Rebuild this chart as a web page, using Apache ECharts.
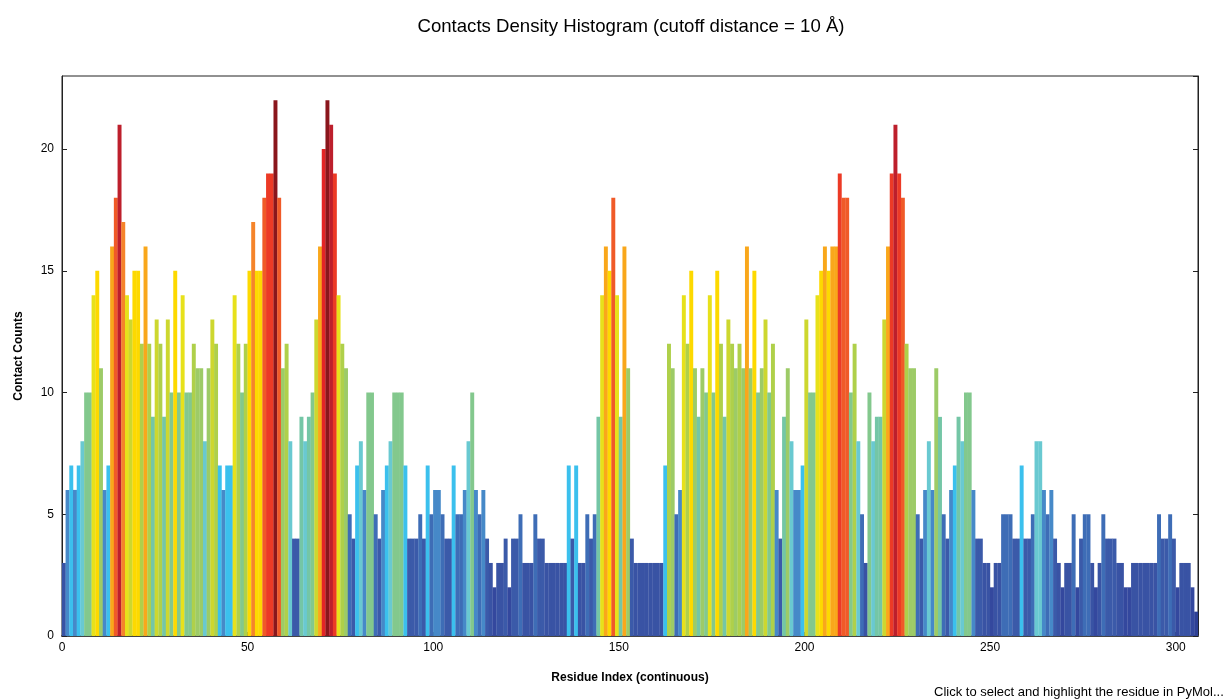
<!DOCTYPE html>
<html>
<head>
<meta charset="utf-8">
<title>Contacts Density Histogram</title>
<script src="https://cdn.jsdelivr.net/npm/echarts@6/dist/echarts.min.js"></script>
<style>
html, body { margin: 0; padding: 0; background: #fff; }
#main { width: 1225px; height: 700px; }
</style>
</head>
<body>
<div id="main"></div>
<script>
// contacts per residue (index 0..305)
var counts = [
	3,6,7,6,7,8,10,10,14,15,
	11,6,7,16,18,21,17,14,13,15,
	15,12,16,12,9,13,12,9,13,10,
	15,10,14,10,10,12,11,11,8,11,
	13,12,7,6,7,7,14,12,10,12,
	15,17,15,15,18,19,19,22,18,11,
	12,8,4,4,9,8,9,10,13,16,
	20,22,21,19,14,12,11,5,4,7,
	8,6,10,10,5,4,6,7,8,10,
	10,10,7,4,4,4,5,4,7,5,
	6,6,5,4,4,7,5,5,6,8,
	10,6,5,6,4,3,2,3,3,4,
	2,4,4,5,3,3,3,5,4,4,
	3,3,3,3,3,3,7,4,7,3,
	3,5,4,5,9,14,16,15,18,14,
	9,16,11,4,3,3,3,3,3,3,
	3,3,7,12,11,5,6,14,12,15,
	11,9,11,10,14,10,15,12,9,13,
	12,11,12,11,16,11,15,10,11,13,
	10,12,6,4,9,11,8,6,6,7,
	13,10,10,14,15,16,15,16,16,19,
	18,18,10,12,8,5,3,10,8,9,
	9,13,16,19,21,19,18,12,11,11,
	5,4,6,8,6,11,9,5,4,6,
	7,9,8,10,10,6,4,4,3,3,
	2,3,3,5,5,5,4,4,7,4,
	4,5,8,8,6,5,6,4,3,2,
	3,3,5,2,4,5,5,3,2,3,
	5,4,4,4,3,3,2,2,3,3,
	3,3,3,3,3,5,4,4,5,4,
	2,3,3,3,2,1
];
var xTicks = [0, 50, 100, 150, 200, 250, 300];
var yTicks = [0, 5, 10, 15, 20];

// colour by count (1..22)
var palette = ['#2e4095','#2e4095','#34489e','#3953a4','#3b5aa9','#3e6db6','#4689c8','#3bc0ed',
	'#69c9d1','#74c6a6','#83c88d','#9dcb67','#afd04a','#cdd72f','#e7e11b','#fdd900',
	'#f9a71b','#f5842a','#f05a28','#ec3a26','#e32526','#bd1f2c','#8a161c'];

var barData = counts.map(function (v, i) { return [i + 0.5, v]; });

var chart = echarts.init(document.getElementById('main'));
var font = 'Liberation Sans, Arial, sans-serif';
option = {
	animation: false,
	backgroundColor: '#fff',
	title: {
		text: 'Contacts Density Histogram (cutoff distance = 10 \u00c5)',
		left: 626,
		textAlign: 'center',
		top: 12,
		textStyle: { color: '#000', fontSize: 18.6, fontWeight: 'normal', fontFamily: font }
	},
	grid: {
		left: 62, right: 27, top: 76, bottom: 64,
		show: true, borderColor: '#222', borderWidth: 1
	},
	xAxis: [{
		type: 'value',
		min: 0, max: 306, interval: 50,
		name: 'Residue Index (continuous)',
		nameLocation: 'middle',
		nameGap: 36,
		nameTextStyle: { color: '#000', fontSize: 12, fontWeight: 'bold', fontFamily: font },
		axisLine: { lineStyle: { color: '#444', width: 2 } },
		axisTick: { inside: true, length: 4, lineStyle: { color: '#222' } },
		axisLabel: {
			color: '#000', fontSize: 12, fontFamily: font, margin: 6,
			showMaxLabel: false,
			formatter: function (v) { return xTicks.indexOf(v) >= 0 ? v : ''; }
		},
		splitLine: { show: false }
	}],
	yAxis: [{
		type: 'value',
		min: 0, max: 23, interval: 5,
		name: 'Contact Counts',
		nameLocation: 'middle',
		nameGap: 37,
		nameTextStyle: { color: '#000', fontSize: 12, fontWeight: 'bold', fontFamily: font },
		axisLine: { show: true, lineStyle: { color: '#222', width: 1 } },
		axisTick: { show: true, inside: true, length: 5, lineStyle: { color: '#222' } },
		axisLabel: {
			color: '#000', fontSize: 12, fontFamily: font, margin: 8,
			showMaxLabel: false,
			formatter: function (v) { return yTicks.indexOf(v) >= 0 ? v : ''; }
		},
		splitLine: { show: false }
	}, {
		type: 'value',
		position: 'right',
		min: 0, max: 23, interval: 5,
		axisLine: { show: true, lineStyle: { color: '#222', width: 1 } },
		axisTick: { show: true, inside: true, length: 5, lineStyle: { color: '#222' } },
		axisLabel: { show: false },
		splitLine: { show: false }
	}],
	graphic: [{
		type: 'text',
		left: 934,
		top: 686,
		style: {
			text: 'Click to select and highlight the residue in PyMol...',
			fill: '#000',
			font: '13px Liberation Sans, Arial, sans-serif'
		}
	}],
	series: [{
		name: 'Contacts',
		type: 'bar',
		data: barData,
		barWidth: 3.95,
		itemStyle: {
			color: function (p) { return palette[p.value[1]]; }
		}
	}]
};
chart.setOption(option);
</script>
</body>
</html>
